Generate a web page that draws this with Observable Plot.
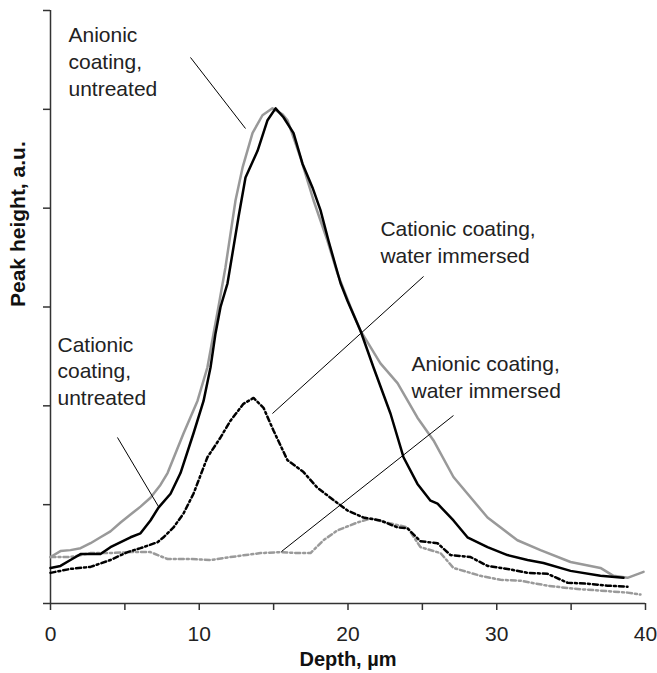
<!DOCTYPE html>
<html>
<head>
<meta charset="utf-8">
<script src="https://cdn.jsdelivr.net/npm/d3@7"></script>
<script src="https://cdn.jsdelivr.net/npm/@observablehq/plot@0.6"></script>
<style>
  html, body { margin: 0; padding: 0; background: #fff; }
  #chart svg { display: block; }
</style>
</head>
<body>
<div id="chart"></div>
<script>
// Anionic coating, untreated (grey solid)
const anionicUntreatedDepth = [0,0.67,1.34,2.02,2.69,3.36,4.03,4.71,5.38,6.05,6.72,7.39,7.87,8.94,9.88,10.55,10.96,11.29,11.76,12.44,12.91,13.58,14.25,14.92,15.6,15.93,16.81,17.68,18.62,19.29,20.17,20.84,22.18,23.33,24.67,25.75,27.09,29.38,31.39,32.94,34.96,36.97,37.85,38.79,39.87];
const anionicUntreatedHeight = [0.47,0.53,0.54,0.56,0.61,0.67,0.73,0.82,0.9,0.98,1.07,1.2,1.32,1.72,2.05,2.39,2.73,3.0,3.4,4.08,4.41,4.76,4.94,5.01,4.95,4.89,4.51,4.08,3.67,3.34,3.0,2.76,2.43,2.23,1.88,1.65,1.28,0.87,0.64,0.54,0.42,0.36,0.28,0.26,0.32];

// Cationic coating, untreated (black solid)
const cationicUntreatedDepth = [0,0.67,1.34,2.02,3.36,4.03,5.38,6.05,6.72,7.26,8.07,8.74,9.61,10.29,10.76,11.09,11.43,11.9,12.64,13.11,13.92,14.59,15.13,15.66,16.34,16.94,17.61,18.15,18.69,19.16,19.5,19.97,20.84,21.71,22.86,23.73,24.67,25.55,26.02,27.09,28.03,29.38,30.72,32.07,33.14,34.96,36.97,38.52];
const cationicUntreatedHeight = [0.36,0.38,0.44,0.5,0.5,0.57,0.67,0.71,0.84,0.97,1.11,1.32,1.72,2.05,2.39,2.73,3.0,3.24,3.91,4.31,4.58,4.89,5.01,4.92,4.76,4.45,4.21,3.98,3.67,3.42,3.24,3.06,2.76,2.39,1.92,1.48,1.21,1.04,1.01,0.84,0.67,0.57,0.49,0.44,0.41,0.33,0.28,0.26];

// Cationic coating, water immersed (black dashed)
const cationicWaterDepth = [0,1.34,2.69,4.03,5.18,6.05,7.19,7.6,8.27,8.94,9.61,10.55,11.43,12.1,12.97,13.65,14.32,14.99,15.93,17.01,17.95,18.82,19.97,21.04,22.18,23.33,24.0,24.87,26.02,26.89,28.24,29.38,30.72,32.07,33.41,34.76,36.1,37.45,38.79];
const cationicWaterHeight = [0.31,0.35,0.37,0.44,0.52,0.56,0.62,0.67,0.77,0.91,1.11,1.48,1.68,1.85,2.02,2.08,1.98,1.75,1.45,1.33,1.17,1.07,0.94,0.87,0.84,0.77,0.76,0.63,0.61,0.49,0.47,0.38,0.35,0.31,0.3,0.21,0.2,0.18,0.17];

// Anionic coating, water immersed (grey dashed)
const anionicWaterDepth = [0,1.34,2.69,4.03,5.38,6.72,7.87,9.41,10.76,12.1,14.12,15.46,16.61,17.48,18.35,19.29,20.64,21.51,22.86,24.0,24.87,26.22,27.09,28.91,30.25,31.6,33.41,35.16,36.97,38.79,39.66];
const anionicWaterHeight = [0.47,0.47,0.51,0.51,0.52,0.52,0.45,0.45,0.44,0.47,0.51,0.52,0.51,0.51,0.64,0.74,0.82,0.86,0.81,0.77,0.57,0.51,0.36,0.28,0.24,0.23,0.18,0.15,0.13,0.11,0.09];

// Axis ticks
const xTicks = [0,5,10,15,20,25,30,35,40];
const xTickLabels = [0,10,20,30,40];
const yTicks = [0,1,2,3,4,5,6];

// Annotations (label text, anchor in data units, leader line in data units)
const annotationText = ["Anionic\ncoating,\nuntreated", "Cationic\ncoating,\nuntreated", "Cationic coating,\nwater immersed", "Anionic coating,\nwater immersed"];
const annotationDepth = [1.21, 0.47, 22.18, 24.27];
const annotationHeight = [5.87, 2.74, 3.91, 2.54];
const leaderFromDepth = [9.41, 4.5, 14.92, 15.53];
const leaderFromHeight = [5.525, 1.68, 1.922, 0.526];
const leaderToDepth = [13.11, 7.26, 25.08, 27.09];
const leaderToHeight = [4.806, 0.981, 3.309, 1.902];

const toRows = (xs, ys) => xs.map((d, i) => ({depth: d, height: ys[i]}));
const anionicUntreated = toRows(anionicUntreatedDepth, anionicUntreatedHeight);
const cationicUntreated = toRows(cationicUntreatedDepth, cationicUntreatedHeight);
const cationicWater = toRows(cationicWaterDepth, cationicWaterHeight);
const anionicWater = toRows(anionicWaterDepth, anionicWaterHeight);
const annotations = annotationText.map((t, i) => ({text: t, depth: annotationDepth[i], height: annotationHeight[i]}));
const leaders = leaderFromDepth.map((d, i) => ({x1: d, y1: leaderFromHeight[i], x2: leaderToDepth[i], y2: leaderToHeight[i]}));

const grey = "#999999";

const chart = Plot.plot({
  width: 657,
  height: 673,
  marginLeft: 50,
  marginRight: 12,
  marginTop: 10,
  marginBottom: 70,
  x: {domain: [0, 40]},
  y: {domain: [0, 6]},
  style: {fontFamily: "'Liberation Sans', Arial, sans-serif", fontSize: "21px", background: "#ffffff", color: "#222"},
  marks: [
    Plot.axisX({ticks: xTicks, tickSize: 7, tickPadding: 16, tickFormat: d => xTickLabels.includes(d) ? String(d) : "", label: null, stroke: "#333", strokeWidth: 1.5, fill: "#222"}),
    Plot.axisY({ticks: yTicks, tickSize: 7, tickFormat: () => "", label: null, stroke: "#333", strokeWidth: 1.5}),
    Plot.ruleX([0], {stroke: "#333", strokeWidth: 1.5}),
    Plot.ruleY([0], {stroke: "#333", strokeWidth: 1.5}),
    Plot.line(anionicWater, {x: "depth", y: "height", stroke: "#9a9a9a", strokeWidth: 2.5, strokeDasharray: "5,3,2,3"}),
    Plot.line(cationicWater, {x: "depth", y: "height", stroke: "#000", strokeWidth: 2.5, strokeDasharray: "5,3,2,3"}),
    Plot.line(anionicUntreated, {x: "depth", y: "height", stroke: grey, strokeWidth: 2.5}),
    Plot.line(cationicUntreated, {x: "depth", y: "height", stroke: "#000", strokeWidth: 2.5}),
    Plot.link(leaders, {x1: "x1", y1: "y1", x2: "x2", y2: "y2", stroke: "#000", strokeWidth: 1}),
    Plot.text(annotations, {x: "depth", y: "height", text: "text", textAnchor: "start", lineAnchor: "top", lineHeight: 1.27, fill: "#222", fontSize: 21}),
    Plot.text(["Depth, µm"], {frameAnchor: "bottom", dy: 62, fontWeight: "bold", fontSize: 20, fill: "#111", letterSpacing: "1.2px"}),
    Plot.text(["Peak height, a.u."], {frameAnchor: "left", dx: -32, rotate: -90, fontWeight: "bold", fontSize: 21, fill: "#111", letterSpacing: "1.4px"})
  ]
});
document.getElementById("chart").appendChild(chart);
</script>
</body>
</html>
